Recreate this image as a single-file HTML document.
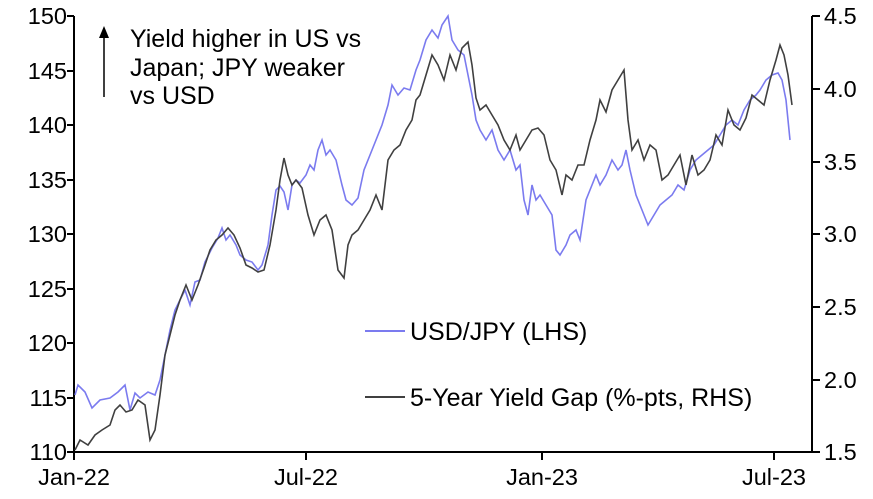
<!DOCTYPE html>
<html><head><meta charset="utf-8"><style>
body{margin:0;background:#fff}
svg{display:block;font-family:"Liberation Sans",Arial,sans-serif}
</style></head><body>
<svg width="873" height="499" viewBox="0 0 873 499">
<g font-size="23.5" fill="#000">
<g text-anchor="end">
<text x="67" y="24">150</text><text x="67" y="79">145</text><text x="67" y="133">140</text><text x="67" y="188">135</text><text x="67" y="242">130</text><text x="67" y="297">125</text><text x="67" y="351">120</text><text x="67" y="406">115</text><text x="67" y="460">110</text>
</g>
<g>
<text x="824" y="24">4.5</text><text x="824" y="97">4.0</text><text x="824" y="170">3.5</text><text x="824" y="242">3.0</text><text x="824" y="315">2.5</text><text x="824" y="388">2.0</text><text x="824" y="460">1.5</text>
</g>
<g text-anchor="middle">
<text x="74" y="485">Jan-22</text><text x="306" y="485">Jul-22</text><text x="542" y="485">Jan-23</text><text x="774" y="485">Jul-23</text>
</g>
</g>
<g font-size="25" fill="#000">
<text x="130" y="47">Yield higher in US vs</text>
<text x="130" y="76">Japan; JPY weaker</text>
<text x="130" y="104">vs USD</text>
<text x="410" y="340">USD/JPY (LHS)</text>
<text x="410" y="406">5-Year Yield Gap (%-pts, RHS)</text>
</g>
<g stroke="#000" stroke-width="2" fill="none">
<path d="M74 16V452H812V16"/>
<path d="M67 16H74M67 71H74M67 125H74M67 180H74M67 234H74M67 289H74M67 343H74M67 398H74M67 452H74"/>
<path d="M812 16H820M812 89H820M812 162H820M812 234H820M812 307H820M812 380H820M812 452H820"/>
<path d="M74 452V460M306 452V460M542 452V460M774 452V460"/>
<path d="M104 97V34" stroke-width="1.5"/>
</g>
<path d="M99 38L104 26L109 38Z" fill="#000"/>
<line x1="365" y1="331" x2="405" y2="331" stroke="#7b7bef" stroke-width="2"/>
<line x1="365" y1="397" x2="405" y2="397" stroke="#404040" stroke-width="2"/>
<polyline fill="none" stroke="#7b7bef" stroke-width="1.6" points="75,395 78,385 85,392 92,408 100,400 110,398 118,392 125,385 130,410 135,393 140,398 148,392 155,395 160,380 165,355 170,330 175,310 180,300 185,290 190,305 195,282 200,280 205,262 212,248 218,238 222,228 226,240 230,235 236,245 240,255 246,260 252,262 258,270 262,265 268,245 272,215 276,190 280,186 284,192 288,210 292,185 296,180 300,183 306,175 310,165 314,170 318,150 322,140 326,155 330,150 336,160 342,185 346,200 352,205 358,198 364,170 370,155 376,140 382,125 388,105 392,85 398,95 404,88 410,90 416,70 420,60 426,40 432,30 438,38 442,25 448,16 452,40 458,50 464,55 468,75 472,95 476,120 480,130 486,140 492,130 498,150 504,160 510,150 516,170 520,165 524,200 528,215 532,185 536,200 540,195 546,205 552,215 556,250 560,255 566,245 570,235 576,230 580,240 586,200 592,185 596,175 600,185 606,175 612,160 618,170 622,165 626,150 630,170 636,195 642,210 648,225 654,215 660,205 666,200 672,195 678,185 684,190 690,170 696,160 702,155 708,150 714,145 720,135 726,125 732,120 738,125 744,110 750,100 756,95 760,90 766,80 772,75 778,73 782,80 786,100 790,140"/>
<polyline fill="none" stroke="#404040" stroke-width="1.6" points="75,450 80,440 88,445 95,435 102,430 110,425 115,410 120,405 126,412 132,410 138,400 145,405 150,440 155,430 160,395 165,355 170,335 175,315 180,300 186,285 192,300 198,285 204,268 210,250 216,240 222,235 228,228 234,235 240,248 246,265 252,268 258,272 264,270 270,245 276,210 280,180 284,158 288,175 292,185 296,180 302,188 308,215 314,235 320,220 326,215 332,230 338,270 344,278 348,245 352,235 358,230 364,220 370,210 376,195 382,210 388,160 394,150 400,145 406,130 412,120 416,100 420,95 426,75 432,55 438,65 444,80 450,55 456,70 462,48 468,42 472,65 476,98 480,110 486,105 492,115 498,125 504,140 510,150 516,135 520,150 526,140 532,130 538,128 544,135 550,160 556,170 562,195 566,175 572,180 578,165 584,165 590,140 596,120 600,100 606,112 612,90 618,80 624,70 628,120 632,150 638,140 644,160 650,145 656,150 662,180 668,175 674,165 680,155 686,185 692,155 698,175 704,170 710,160 716,135 722,145 728,110 734,125 740,130 746,118 752,95 758,100 764,105 770,80 776,60 780,45 784,55 788,75 792,105"/>
</svg>
</body></html>
